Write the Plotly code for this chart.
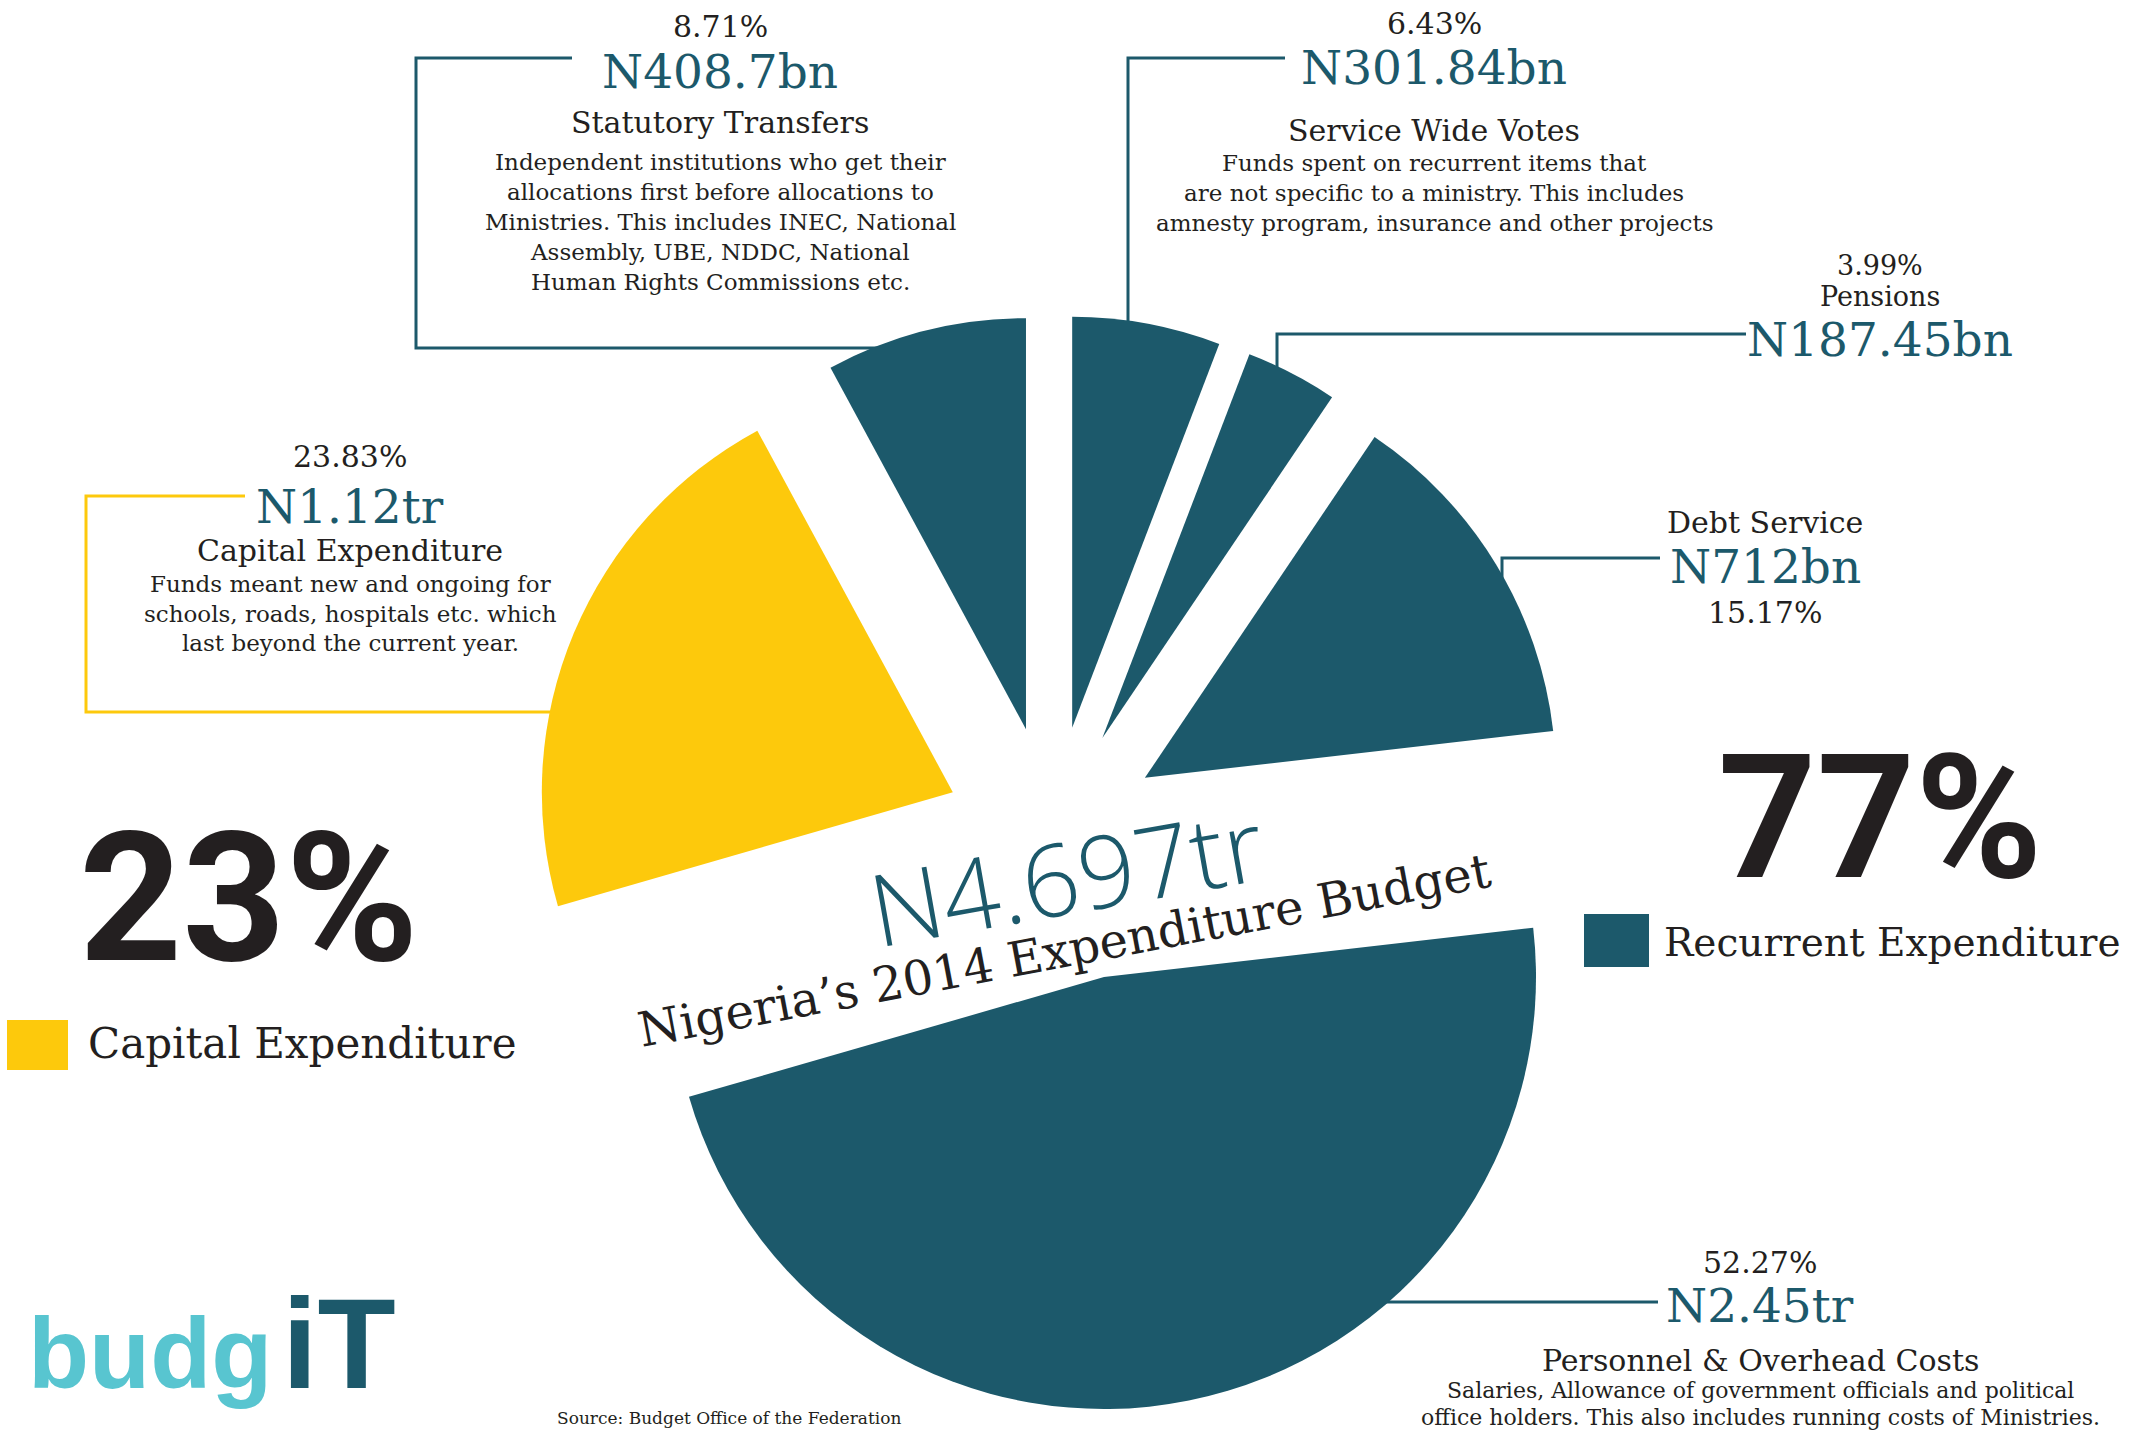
import plotly.graph_objects as go

W, H = 2131, 1430

# ---------------- data ----------------
categories = ["Service Wide Votes", "Pensions", "Debt Service",
              "Personnel & Overhead Costs", "Capital Expenditure", "Statutory Transfers"]
shares = [6.43, 3.99, 15.17, 52.27, 23.83, 8.71]
share_labels = ["6.43%", "3.99%", "15.17%", "52.27%", "23.83%", "8.71%"]
amounts = ["N301.84bn", "N187.45bn", "N712bn", "N2.45tr", "N1.12tr", "N408.7bn"]
groups = ["Recurrent", "Recurrent", "Recurrent", "Recurrent", "Capital", "Recurrent"]
descriptions = {
    "Statutory Transfers": ["Independent institutions who get their",
                            "allocations first before allocations to",
                            "Ministries. This includes INEC, National",
                            "Assembly, UBE, NDDC, National",
                            "Human Rights Commissions etc."],
    "Service Wide Votes": ["Funds spent on recurrent items that",
                           "are not specific to a ministry. This includes",
                           "amnesty program, insurance and other projects"],
    "Capital Expenditure": ["Funds meant new and ongoing for",
                            "schools, roads, hospitals etc. which",
                            "last beyond the current year."],
    "Personnel & Overhead Costs": ["Salaries, Allowance of government officials and political",
                                   "office holders. This also includes running costs of Ministries."],
}
group_names = ["Capital Expenditure", "Recurrent Expenditure"]
group_shares = ["23%", "77%"]
total_label = "N4.697tr"
title_text = "Nigeria\u2019s 2014 Expenditure Budget"
source_text = "Source: Budget Office of the Federation"

# ---------------- styles ----------------
TEAL = "#1c596b"
YELLOW = "#fdc90c"
CYAN = "#58c5d0"
DARK = "#231f20"
CLEAR = "rgba(0,0,0,0)"
SERIF = "DejaVu Serif"
group_color = {"Recurrent": TEAL, "Capital": YELLOW}


def px(x):
    return x / W


def py(y):
    return 1 - y / H


def square_domain(cx, cy, half):
    return dict(x=[px(cx - half), px(cx + half)], y=[py(cy + half), py(cy - half)])


BIG = "Personnel & Overhead Costs"
small_pull = 0.263
R_main = 411
main_colors = [CLEAR if c == BIG else group_color[g] for c, g in zip(categories, groups)]
main_pull = [0 if c == BIG else small_pull for c in categories]
big_colors = [TEAL if c == BIG else CLEAR for c in categories]

fig = go.Figure()
fig.add_trace(go.Pie(
    labels=categories, values=shares, sort=False, direction="clockwise", rotation=0,
    marker=dict(colors=main_colors, line=dict(width=0)), pull=main_pull,
    textinfo="none", hoverinfo="label+percent", showlegend=False,
    domain=square_domain(1052.5, 834, R_main * (1 + small_pull)),
))
fig.add_trace(go.Pie(
    labels=categories, values=shares, sort=False, direction="clockwise", rotation=0,
    marker=dict(colors=big_colors, line=dict(width=0)),
    textinfo="none", hoverinfo="label+percent", showlegend=False,
    domain=square_domain(1104, 977, 432),
))

# ---------------- callout layout (positions only) ----------------
callout_pos = {
    "Statutory Transfers": dict(x=720, pct=27, amt=72, title=122, lines=[162, 192, 222, 252, 282], dsize=23),
    "Service Wide Votes": dict(x=1434, pct=23, amt=67, title=130, lines=[163, 193, 223], dsize=23),
    "Capital Expenditure": dict(x=350, pct=456, amt=506, title=550, lines=[584, 614, 643], dsize=23),
    "Personnel & Overhead Costs": dict(x=1760, pct=1262, amt=1305, title=1360, lines=[1390, 1417], dsize=22),
    "Pensions": dict(x=1880, pct=265, title=296, amt=340, lines=[], psize=27, tsize=27),
    "Debt Service": dict(x=1765, title=522, amt=566, pct=612, lines=[]),
}
callout_lines = {
    "Statutory Transfers": [(572, 58), (416, 58), (416, 348), (900, 348)],
    "Service Wide Votes": [(1285, 58), (1128, 58), (1128, 340)],
    "Pensions": [(1746, 334), (1277, 334), (1277, 380)],
    "Debt Service": [(1660, 558), (1502, 558), (1502, 610)],
    "Personnel & Overhead Costs": [(1658, 1302), (1370, 1302)],
    "Capital Expenditure": [(245, 496), (86, 496), (86, 712), (600, 712)],
}

annotations = []


def add_text(text, x, y, size, color=DARK, family=SERIF, angle=0, weight=None,
             xanchor="center", yanchor="middle"):
    f = dict(family=family, size=size, color=color)
    if weight:
        f["weight"] = weight
    annotations.append(dict(text=text, x=px(x), y=py(y), xref="paper", yref="paper",
                            showarrow=False, xanchor=xanchor, yanchor=yanchor,
                            textangle=angle, font=f))


shapes = []
for cat, amt, lab, grp in zip(categories, amounts, share_labels, groups):
    p = callout_pos[cat]
    add_text(lab, p["x"], p["pct"], p.get("psize", 30))
    add_text(amt, p["x"], p["amt"], 47, color=TEAL)
    add_text(cat, p["x"], p["title"], p.get("tsize", 30))
    for line_text, ly in zip(descriptions.get(cat, []), p["lines"]):
        add_text(line_text, p["x"], ly, p["dsize"])
    pts = callout_lines[cat]
    path = "M " + " L ".join(f"{px(a)},{py(b)}" for a, b in pts)
    shapes.append(dict(type="path", path=path, xref="paper", yref="paper", layer="below",
                       line=dict(color=group_color[grp], width=3)))

# group totals and legend
legend_pos = [
    dict(big=(249, 898), bsize=180, sq=(7, 1020, 68, 1070), txt=(86, 1043), tsize=42),
    dict(big=(1880, 818), bsize=172, sq=(1584, 914, 1649, 967), txt=(1662, 942), tsize=39),
]
legend_colors = [YELLOW, TEAL]
for name, share, col, lp in zip(group_names, group_shares, legend_colors, legend_pos):
    add_text(share, lp["big"][0], lp["big"][1], lp["bsize"], family="Roboto", weight=700)
    x0, y0, x1, y1 = lp["sq"]
    shapes.append(dict(type="rect", xref="paper", yref="paper", x0=px(x0), x1=px(x1),
                       y0=py(y1), y1=py(y0), fillcolor=col, line=dict(width=0)))
    add_text(name, lp["txt"][0], lp["txt"][1], lp["tsize"], xanchor="left")

# centre titles
add_text(total_label, 1066, 875, 100, color=TEAL, family="Open Sans", angle=-10, weight=300)
add_text(title_text, 1064, 950, 48, angle=-10.7)

# logo
add_text("budg", 26, 1353, 100, color=CYAN, family="Liberation Sans", weight=700, xanchor="left")
add_text("iT", 280, 1343, 128, color=TEAL, family="Liberation Sans", weight=700, xanchor="left")

# source line
add_text(source_text, 555, 1418, 17, xanchor="left")

fig.update_layout(
    width=W, height=H, margin=dict(l=0, r=0, t=0, b=0),
    paper_bgcolor="white", plot_bgcolor="white",
    annotations=annotations, shapes=shapes, showlegend=False,
)
fig.write_html("out.html", config={"displayModeBar": False},
               post_script="document.body.style.margin='0px';")
